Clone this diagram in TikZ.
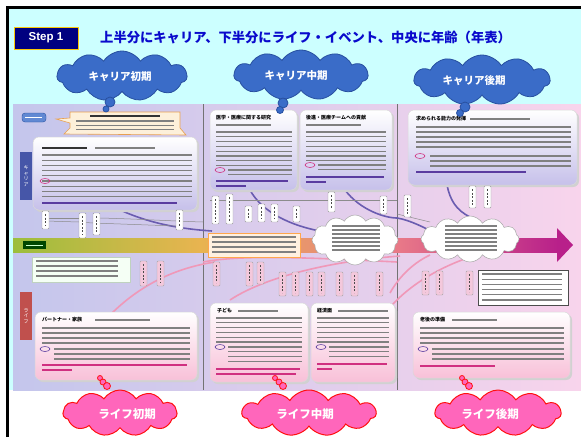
\documentclass[tikz,border=0pt]{standalone}
\usepackage{fontspec}
\setmainfont{Liberation Sans}
\newfontfamily\jp{Noto Sans CJK JP}
\usetikzlibrary{shapes.symbols,shapes.geometric}
\definecolor{cyanbg}{HTML}{CCFFFF}
\definecolor{stepnavy}{HTML}{000080}
\definecolor{titleblue}{HTML}{0A0ACC}
\definecolor{cblue}{HTML}{3A6CC8}
\definecolor{cblueb}{HTML}{2850A0}
\definecolor{cpink}{HTML}{FF66BB}
\definecolor{cpinkb}{HTML}{FF1010}
\definecolor{lavL}{HTML}{C4C6EC}
\definecolor{lavM}{HTML}{E0D2F0}
\definecolor{pinkR}{HTML}{F8D4EC}
\definecolor{boxlav}{HTML}{C6C0EA}
\definecolor{boxpink}{HTML}{F8C0D8}
\definecolor{bandG}{HTML}{9CBE3C}
\definecolor{bandY}{HTML}{E8B450}
\definecolor{bandO}{HTML}{F4A868}
\definecolor{bandR}{HTML}{E87888}
\definecolor{bandM}{HTML}{B8208A}
\definecolor{purp}{HTML}{6A5CB0}
\definecolor{pinkln}{HTML}{F098B8}
\definecolor{tabblue}{HTML}{4656A8}
\definecolor{tabred}{HTML}{C0504D}
\definecolor{calfill}{HTML}{FDF0DA}
\definecolor{calbord}{HTML}{E8A050}
\definecolor{txpurp}{HTML}{5A3CA0}
\definecolor{txpink}{HTML}{D03080}
\definecolor{labpink}{HTML}{F4C8DC}
\newcommand\tl[5]{\foreach \k in {1,...,#4}{\draw[txt] (#1,{#2+(\k-1)*#5}) -- ++(#3,0);}}
\newcommand\vlabc[3]{\path[vlc] (#1,#2) rectangle ++(7,#3); \draw[vtx] ({#1+3.5},{#2+3}) -- ({#1+3.5},{#2+#3-3});}
\newcommand\vlabl[3]{\path[vll] (#1,#2) rectangle ++(7,#3); \draw[vtx] ({#1+3.5},{#2+3}) -- ({#1+3.5},{#2+#3-3});}
\begin{document}
\begin{tikzpicture}[x=1pt,y=-1pt,
  txt/.style={line width=1.1pt,black!50},
  txtb/.style={line width=1.5pt,black!80},
  txtpu/.style={line width=1.1pt,txpurp},
  txtpk/.style={line width=1.1pt,txpink},
  vlc/.style={fill=white,draw=black!40,line width=0.4pt,rounded corners=1pt},
  vll/.style={fill=labpink,draw=black!35,line width=0.4pt,rounded corners=1pt},
  vtx/.style={line width=1.3pt,black!70,dash pattern=on 2pt off 1.6pt},
  cbox/.style={rounded corners=6pt,top color=white,bottom color=boxlav,draw=white!85!black,line width=0.5pt},
  lbox/.style={rounded corners=6pt,top color=white,bottom color=boxpink,draw=white!85!black,line width=0.5pt},
  shad/.style={rounded corners=6pt,fill=black!18},
  bcloud/.style={cloud,cloud puffs=11,cloud puff arc=115,cloud ignores aspect,fill=cblue,draw=cblueb,line width=0.8pt,inner sep=0pt},
  pcloud/.style={cloud,cloud puffs=11,cloud puff arc=115,cloud ignores aspect,fill=cpink,draw=cpinkb,line width=1pt,inner sep=0pt},
  btext/.style={text=white,inner sep=0pt,font=\jp\bfseries\fontsize{10.5}{12}\selectfont},
  ptext/.style={text=white,inner sep=0pt,font=\jp\bfseries\fontsize{11.5}{12}\selectfont},
  wcloud/.style={cloud,cloud puffs=12,cloud puff arc=120,cloud ignores aspect,fill=white,draw=black!35,line width=0.5pt},
  bdot/.style={fill=cblue,draw=cblueb,line width=0.8pt},
  pdot/.style={fill=cpink,draw=cpinkb,line width=0.8pt},
  tabbox/.style={minimum width=12pt,minimum height=48pt,inner sep=0pt,text=white,align=center,font=\jp\fontsize{5}{5.6}\selectfont},
  carline/.style={purp,line width=1.6pt},
  lifeline/.style={pinkln,line width=1.6pt},
  thinl/.style={black!45,line width=0.5pt},
  ttl/.style={anchor=west,inner sep=0pt,font=\jp\bfseries\fontsize{5}{6}\selectfont}
]
\useasboundingbox (0,0) rectangle (581,437);
\fill[white] (0,0) rectangle (581,437);
\fill[cyanbg] (9,9) rectangle (581,390);
% screenshot background
\shade[left color=lavL,middle color=lavM,right color=pinkR] (13,104) rectangle (581,390);
\draw[black!55,line width=0.5pt] (203,104) -- (203,390);
\draw[black!55,line width=0.5pt] (397,104) -- (397,390);
% frame
\draw[line width=3pt] (7,437) -- (7,7) -- (581,7);

% header
\node[fill=stepnavy,draw=yellow!60!orange,line width=0.6pt,minimum width=64pt,minimum height=22pt,inner sep=0pt,text=white,font=\bfseries\fontsize{11.5}{14}\selectfont] (step) at (46,38) {Step 1};
\node[anchor=west,inner sep=0pt,text=titleblue,font=\jp\bfseries\fontsize{13.3}{16}\selectfont] (title) at (100,37) {上半分にキャリア、下半分にライフ・イベント、中央に年齢（年表）};

% time band
\shade[left color=bandG,right color=bandY] (13,238) rectangle (200,252);
\shade[left color=bandY,middle color=bandO,right color=bandR] (200,238) rectangle (400,252);
\shade[left color=bandR,right color=bandM] (400,238) rectangle (558,252);
\fill[bandM] (557,228) -- (573,245) -- (557,262) -- cycle;
\fill[black!30!green!40!black] (23,241) rectangle (46,249);
\draw[line width=1pt,white!80!green] (26,245) -- (43,245);

% career curves
\draw[carline] (118,209) .. controls (150,224) and (182,229) .. (212,231);
\draw[carline] (250,190) .. controls (262,212) and (290,226) .. (325,232);
\draw[carline] (345,190) .. controls (360,210) and (385,218) .. (397,218) .. controls (410,220) and (425,228) .. (437,234);
\draw[carline] (447,185) .. controls (450,200) and (456,210) .. (470,217);
\draw[thinl] (46,218) -- (79,218);
\draw[thinl] (46,221) -- (79,222) -- (93,223) -- (176,226);
\draw[thinl] (100,218) .. controls (140,219) and (170,221) .. (203,222);
\draw[thinl] (210,200) -- (397,200);
\draw[thinl] (397,214) -- (430,222);

% life curves
\draw[lifeline] (110,315) .. controls (140,285) and (175,268) .. (215,262);
\draw[lifeline] (203,262) .. controls (240,255) and (300,257) .. (397,262);
\draw[lifeline] (230,300) .. controls (260,280) and (320,262) .. (400,256);
\draw[lifeline] (390,293) .. controls (400,275) and (415,262) .. (430,255);
\draw[lifeline] (392,305) .. controls (420,275) and (460,258) .. (495,250);

% ---- career left column
\filldraw[fill=calfill,draw=calbord,line width=0.6pt] (70,112) -- (180,112) -- (180,128) -- (186,135) -- (64,134) -- (70,128) -- (70,123) -- (56,119) -- (70,118) -- cycle;
\draw[txtb] (90,116) -- ++(70,0);
\tl{76}{121}{98}{3}{4.3}
\filldraw[fill=cblue!80,draw=cblueb,rounded corners=3pt,line width=0.4pt] (22,113) rectangle (46,122);
\draw[line width=1pt,white] (25,117.5) -- (42,117.5);
\fill[shad] (35,139) rectangle (199,212);
\path[cbox] (33,137) rectangle (197,210);
\draw[txtb] (42,148) -- ++(45,0);
\draw[txt] (95,148) -- ++(60,0);
\tl{42}{155}{150}{9}{5.2}
\draw[txtpu] (42,203) -- ++(135,0);
\draw[txpink,line width=0.6pt] (45,181) ellipse (5 and 2.5);
\node[tabbox,fill=tabblue] (tabc) at (26,176) {キ\\ャ\\リ\\ア};
\vlabc{42}{211}{18}
\vlabc{79}{213}{25}
\vlabc{93}{213}{22}
\vlabc{176}{210}{20}

% ---- career middle column
\fill[shad] (212,112) rectangle (299,192);
\path[cbox] (210,110) rectangle (297,190);
\node[ttl] (t1) at (216,118) {医学・医療に関する研究};
\draw[txt] (216,125) -- ++(55,0);
\tl{216}{132}{76}{8}{4.8}
\draw[txpink,line width=0.6pt] (220,170) ellipse (5 and 2.5);
\tl{228}{170}{64}{2}{4.8}
\draw[txtpu] (216,181) -- ++(72,0);
\draw[txtpu] (216,186) -- ++(30,0);
\fill[shad] (302,112) rectangle (394,192);
\path[cbox] (300,110) rectangle (392,190);
\node[ttl] (t2) at (306,118) {後進・医療チームへの貢献};
\draw[txt] (306,125) -- ++(55,0);
\tl{306}{132}{80}{7}{4.8}
\draw[txpink,line width=0.6pt] (310,165) ellipse (5 and 2.5);
\tl{318}{165}{68}{2}{4.8}
\draw[txtpu] (306,177) -- ++(78,0);
\draw[txtpu] (306,182) -- ++(20,0);
\vlabc{212}{196}{28}
\vlabc{226}{194}{30}
\vlabc{245}{206}{16}
\vlabc{258}{204}{18}
\vlabc{271}{204}{18}
\vlabc{293}{206}{16}
\vlabc{328}{192}{20}
\vlabc{380}{196}{18}

% ---- career right column
\fill[shad] (410,112) rectangle (579,187);
\path[cbox] (408,110) rectangle (577,185);
\node[ttl] (t3) at (416,119) {求められる能力の発揮};
\draw[txt] (470,119) -- ++(60,0);
\tl{416}{127}{155}{5}{5}
\draw[txpink,line width=0.6pt] (420,156) ellipse (5 and 2.5);
\tl{430}{156}{141}{3}{5}
\draw[txtpu] (416,172) -- ++(110,0);
\vlabc{404}{195}{22}
\vlabc{469}{186}{22}
\vlabc{484}{186}{22}

% mid-band boxes and clouds
\filldraw[fill=orange!12,draw=orange!70,line width=0.6pt] (208,233) rectangle (300,257);
\tl{212}{237}{84}{4}{5}
\node[wcloud,minimum width=86pt,minimum height=50pt] (m1) at (355,240) {};
\tl{332}{226}{48}{7}{4}
\node[wcloud,minimum width=98pt,minimum height=46pt] (m2) at (470,239) {};
\tl{445}{226}{52}{7}{4}

% ---- life left column
\filldraw[fill=green!4,draw=green!30!black!25,line width=0.5pt] (32,257) rectangle (130,282);
\tl{36}{261}{82}{4}{5}
\vlabl{140}{261}{25}
\vlabl{157}{261}{25}
\node[tabbox,fill=tabred] (tabl) at (26,316) {ラ\\イ\\フ};
\fill[shad] (37,314) rectangle (199,382);
\path[lbox] (35,312) rectangle (197,380);
\node[ttl] (t4) at (42,320) {パートナー・家族};
\draw[txt] (95,320) -- ++(55,0);
\tl{42}{328}{148}{4}{5}
\draw[txpurp,line width=0.6pt] (45,349) ellipse (5 and 2.5);
\tl{54}{349}{136}{3}{5}
\draw[txtpk] (42,365) -- ++(145,0);
\draw[txtpk] (42,370) -- ++(30,0);

% ---- life middle column
\vlabl{213}{262}{24}
\vlabl{246}{262}{24}
\vlabl{257}{262}{22}
\vlabl{279}{272}{24}
\vlabl{292}{272}{24}
\vlabl{306}{272}{24}
\vlabl{318}{272}{24}
\vlabl{336}{272}{24}
\vlabl{351}{272}{24}
\vlabl{376}{272}{24}
\fill[shad] (212,305) rectangle (310,384);
\path[lbox] (210,303) rectangle (308,382);
\node[ttl] (t5) at (217,311) {子ども};
\draw[txt] (238,311) -- ++(40,0);
\tl{216}{318}{86}{6}{4.8}
\draw[txpurp,line width=0.6pt] (220,347) ellipse (5 and 2.5);
\tl{228}{347}{74}{4}{4.8}
\draw[txtpk] (216,369) -- ++(84,0);
\draw[txtpk] (216,374) -- ++(80,0);
\fill[shad] (313,305) rectangle (397,384);
\path[lbox] (311,303) rectangle (395,382);
\node[ttl] (t6) at (317,311) {経済面};
\draw[txt] (338,311) -- ++(50,0);
\tl{317}{318}{72}{6}{4.8}
\draw[txpurp,line width=0.6pt] (321,347) ellipse (5 and 2.5);
\tl{329}{347}{60}{3}{4.8}
\draw[txtpk] (317,364) -- ++(70,0);
\draw[txtpk] (317,369) -- ++(15,0);

% ---- life right column
\vlabl{422}{271}{24}
\vlabl{436}{271}{24}
\vlabl{466}{271}{24}
\filldraw[fill=white,draw=black!70,line width=0.8pt] (478,270) rectangle (568,305);
\tl{482}{274}{80}{6}{5.2}
\fill[shad] (415,314) rectangle (572,380);
\path[lbox] (413,312) rectangle (570,378);
\node[ttl] (t7) at (420,320) {老後の準備};
\draw[txt] (452,320) -- ++(45,0);
\tl{420}{328}{144}{4}{5}
\draw[txpurp,line width=0.6pt] (423,349) ellipse (5 and 2.5);
\tl{432}{349}{132}{3}{5}
\draw[txtpk] (420,366) -- ++(75,0);

% ---- career clouds
\node[bcloud,minimum width=130pt,minimum height=50pt] (c1) at (122,76) {};
\node[bcloud,minimum width=134pt,minimum height=50pt] (c2) at (301,75) {};
\node[bcloud,minimum width=136pt,minimum height=50pt] (c3) at (482,80) {};
\node[btext] (c1t) at (120,77) {キャリア初期};
\node[btext] (c2t) at (296,76) {キャリア中期};
\node[btext] (c3t) at (474,81) {キャリア後期};
\path[bdot] (110,102) circle[radius=5];
\path[bdot] (106,109) circle[radius=3];
\path[bdot] (283,103) circle[radius=5];
\path[bdot] (280,110) circle[radius=3.5];
\path[bdot] (465,107) circle[radius=5];
\path[bdot] (460,113) circle[radius=3.5];

% ---- life clouds
\path[pdot] (100,378) circle[radius=2.5];
\path[pdot] (103,382) circle[radius=3];
\path[pdot] (107,386) circle[radius=3.5];
\path[pdot] (275,378) circle[radius=2.5];
\path[pdot] (279,382) circle[radius=3];
\path[pdot] (283,386) circle[radius=3.5];
\path[pdot] (462,378) circle[radius=2.5];
\path[pdot] (465,382) circle[radius=3];
\path[pdot] (469,386) circle[radius=3.5];
\node[pcloud,minimum width=114pt,minimum height=46pt] (p1) at (120,413) {};
\node[pcloud,minimum width=134pt,minimum height=46pt] (p2) at (309,413) {};
\node[pcloud,minimum width=126pt,minimum height=46pt] (p3) at (498,413) {};
\node[ptext] (p1t) at (127,414) {ライフ初期};
\node[ptext] (p2t) at (305,414) {ライフ中期};
\node[ptext] (p3t) at (490,414) {ライフ後期};
\end{tikzpicture}
\end{document}
